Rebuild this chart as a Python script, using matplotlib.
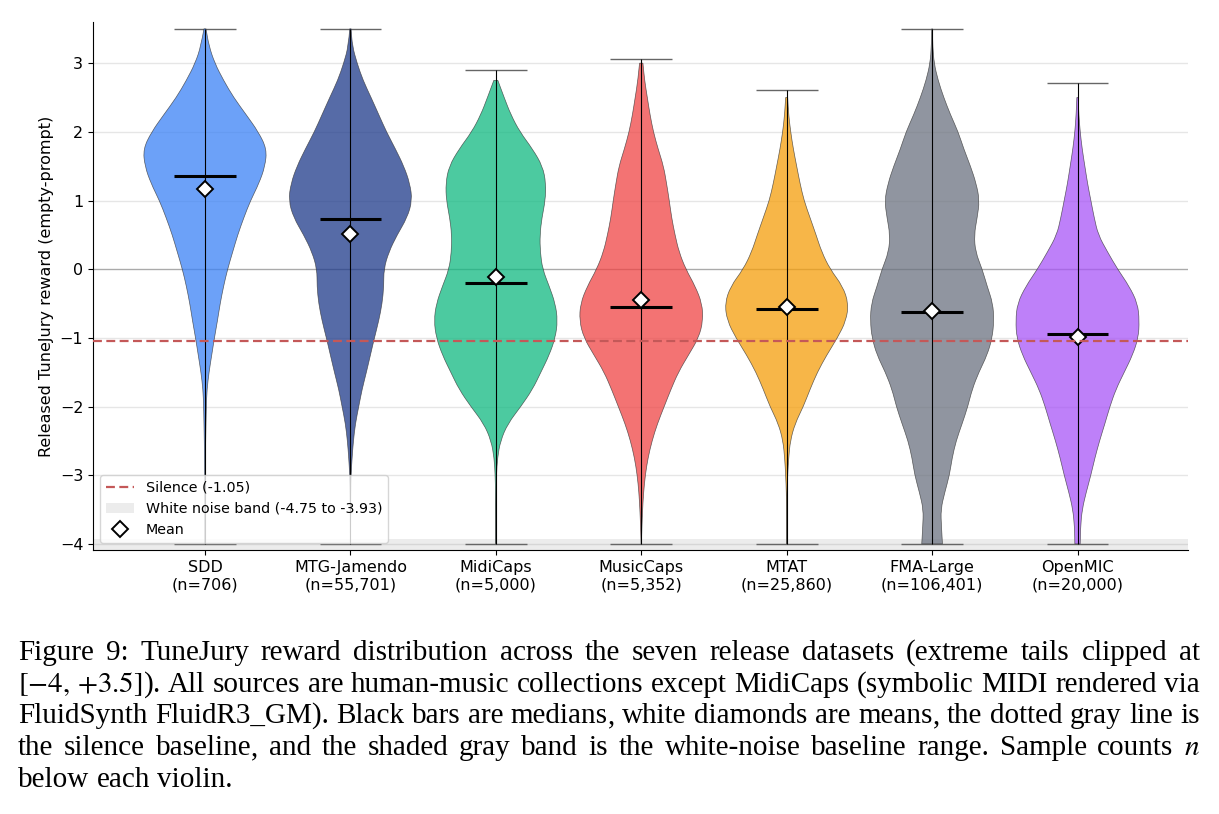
import matplotlib
matplotlib.use('Agg')
import matplotlib.pyplot as plt
from matplotlib.lines import Line2D
from matplotlib.patches import Patch, PathPatch
from matplotlib.path import Path

plt.rcParams['mathtext.fontset'] = 'stix'

datasets = ['SDD', 'MTG-Jamendo', 'MidiCaps', 'MusicCaps', 'MTAT', 'FMA-Large', 'OpenMIC']
counts = [706, 55701, 5000, 5352, 25860, 106401, 20000]
medians = [1.36, 0.73, -0.20, -0.55, -0.58, -0.63, -0.95]
means = [1.17, 0.51, -0.12, -0.45, -0.55, -0.61, -0.99]
mins = [-4.0, -4.0, -4.0, -4.0, -4.0, -4.0, -4.0]
maxs = [3.5, 3.5, 2.90, 3.06, 2.61, 3.5, 2.71]
colors = ['#3b82f6', '#1e3a8a', '#10b981', '#ef4444', '#f59e0b', '#6b7280', '#a855f7']

silence = -1.05
noise_lo, noise_hi = -4.75, -3.93

# reward levels where the violin widths were read (bottom to top)
levels = [-4.0, -3.75, -3.5, -3.25, -3.0, -2.75, -2.5, -2.25, -2.0, -1.75, -1.5,
          -1.25, -1.0, -0.75, -0.5, -0.25, 0.0, 0.25, 0.5, 0.75, 1.0, 1.25, 1.5,
          1.75, 2.0, 2.25, 2.5, 2.75, 3.0, 3.25, 3.5]

# relative density at each level
dens_sdd = [0.2, 0.3, 0.4, 0.6, 1, 1.5, 2, 3, 4, 6, 12, 20, 28, 37, 45, 55, 67, 82,
            97, 115, 135, 160, 178, 183, 158, 122, 85, 55, 29, 12, 3]
dens_mtg = [0.2, 0.3, 0.5, 1, 2, 5, 9, 15, 25, 35, 48, 60, 72, 85, 95, 100, 100, 115,
            140, 170, 185, 178, 160, 135, 108, 85, 62, 38, 20, 6, 2]
dens_midi = [0.2, 0.3, 0.5, 1, 2, 5, 14, 36, 75, 110, 135, 160, 178, 185, 178, 160,
             140, 133, 132, 138, 148, 150, 140, 110, 72, 45, 25, 6]
dens_musiccaps = [0.5, 2, 4, 7, 12, 20, 32, 48, 68, 88, 110, 140, 170, 183, 180, 160,
                  132, 112, 100, 90, 83, 75, 66, 50, 36, 26, 18, 10, 5]
dens_mtat = [0.2, 0.3, 0.5, 1, 3, 6, 11, 25, 50, 70, 92, 120, 152, 178, 185, 168,
             130, 105, 88, 70, 52, 40, 30, 20, 12, 6, 3]
dens_fma = [31, 28, 26, 38, 52, 60, 72, 90, 107, 120, 140, 165, 180, 185, 182, 165,
            150, 130, 126, 135, 142, 132, 115, 95, 78, 55, 35, 18, 6, 2, 1]
dens_openmic = [8, 9, 14, 26, 40, 52, 66, 82, 97, 115, 140, 165, 182, 185, 180, 155,
                120, 90, 62, 50, 40, 30, 22, 14, 8, 4, 2]
densities = [dens_sdd, dens_mtg, dens_midi, dens_musiccaps, dens_mtat, dens_fma, dens_openmic]

WIDTH = 0.85


def smooth_side(pts, first_code):
    # quadratic bezier through segment midpoints, read points used as controls
    verts, codes = [pts[0]], [first_code]
    for i in range(1, len(pts) - 1):
        mid = ((pts[i][0] + pts[i + 1][0]) / 2, (pts[i][1] + pts[i + 1][1]) / 2)
        verts += [pts[i], mid]
        codes += [Path.CURVE3, Path.CURVE3]
    verts.append(pts[-1])
    codes.append(Path.LINETO)
    return verts, codes


fig = plt.figure(figsize=(12.19, 8.14), dpi=100)
ax = fig.add_axes([0.0763, 0.3243, 0.8983, 0.6487])

positions = list(range(len(datasets)))
vpstats = []
for i in positions:
    d = densities[i]
    vpstats.append(dict(coords=levels[:len(d)], vals=d, mean=means[i],
                        median=medians[i], min=mins[i], max=maxs[i], quantiles=[]))

parts = ax.violin(vpstats, positions=positions, widths=WIDTH,
                  showmeans=False, showextrema=True, showmedians=True)

# replace the straight-edged bodies with smoothed outlines
for i, body in enumerate(parts['bodies']):
    body.set_visible(False)
    d = densities[i]
    ys = levels[:len(d)]
    hw = [0.5 * WIDTH * v / max(d) for v in d]
    right = [(positions[i] + h, y) for h, y in zip(hw, ys)]
    left = [(positions[i] - h, y) for h, y in zip(hw, ys)][::-1]
    v1, c1 = smooth_side(right, Path.MOVETO)
    v2, c2 = smooth_side(left, Path.LINETO)
    verts = v1 + v2 + [right[0]]
    codes = c1 + c2 + [Path.CLOSEPOLY]
    ax.add_patch(PathPatch(Path(verts, codes), facecolor=colors[i], alpha=0.75,
                           edgecolor='#333333', lw=0.5, zorder=2))

parts['cbars'].set_color('black')
parts['cbars'].set_linewidth(0.8)
parts['cbars'].set_zorder(3)
for k in ['cmins', 'cmaxes']:
    parts[k].set_color('#666666')
    parts[k].set_linewidth(1.0)
parts['cmedians'].set_color('black')
parts['cmedians'].set_linewidth(2.2)
parts['cmedians'].set_zorder(4)

ax.plot(positions, means, 'D', mfc='white', mec='black', ms=8.5, mew=1.4, zorder=5)

ax.axhspan(noise_lo, noise_hi, color='gray', alpha=0.15, lw=0, zorder=1)
ax.axhline(silence, color='#c45858', ls='--', lw=1.6, dashes=(4, 2), zorder=6)
ax.axhline(0, color='#aaaaaa', lw=0.9, zorder=1)

ax.set_xlim(-0.77, 6.76)
ax.set_ylim(-4.09, 3.6)
ax.set_yticks([-4, -3, -2, -1, 0, 1, 2, 3])
ax.yaxis.grid(True, color='#e6e6e6', lw=1.0)
ax.set_axisbelow(True)
ax.set_xticks(positions)
ax.set_xticklabels([f'{d}\n(n={n:,})' for d, n in zip(datasets, counts)], fontsize=11.5)
ax.tick_params(axis='y', labelsize=11.5)
ax.set_ylabel('Released TuneJury reward (empty-prompt)', fontsize=11.5)
ax.spines['top'].set_visible(False)
ax.spines['right'].set_visible(False)

handles = [Line2D([], [], color='#c45858', ls='--', lw=1.6, dashes=(4, 2)),
           Patch(facecolor='gray', alpha=0.15, lw=0),
           Line2D([], [], marker='D', ls='none', mfc='white', mec='black', ms=8.5, mew=1.4)]
ax.legend(handles, [f'Silence ({silence})', f'White noise band ({noise_lo} to {noise_hi})', 'Mean'],
          loc='lower left', fontsize=10.3)

# caption, set as justified lines
caption = [
    'Figure 9: TuneJury reward distribution across the seven release datasets (extreme tails clipped at',
    r'$[-4,\,{+}3.5]$). All sources are human-music collections except MidiCaps (symbolic MIDI rendered via',
    'FluidSynth FluidR3_GM). Black bars are medians, white diamonds are means, the dotted gray line is',
    r'the silence baseline, and the shaded gray band is the white-noise baseline range. Sample counts $n$',
    'below each violin.',
]
FS = 21
W = fig.get_figwidth() * fig.dpi
H = fig.get_figheight() * fig.dpi
left_px, right_px = 18, 1200
baselines = [660, 692, 723, 755, 787]
renderer = fig.canvas.get_renderer()
for j, line in enumerate(caption):
    words = []
    for w in line.split(' '):
        # a trailing comma is drawn on its own so agg keeps the word on the baseline
        pieces = [w[:-1], ','] if w.endswith(',') and '$' not in w else [w]
        texts = [fig.text(0, 1 - baselines[j] / H, p, fontsize=FS,
                          family='Liberation Serif', va='baseline') for p in pieces]
        widths = [t.get_window_extent(renderer).width for t in texts]
        words.append((texts, widths))
    total = sum(sum(ws) for _, ws in words)
    if j < len(caption) - 1:
        gap = (right_px - left_px - total) / (len(words) - 1)
    else:
        gap = FS * 0.25 * fig.dpi / 72
    x = left_px
    for texts, widths in words:
        for t, w in zip(texts, widths):
            t.set_x(x / W)
            x += w
        x += gap

fig.savefig('out.png', dpi=100)
